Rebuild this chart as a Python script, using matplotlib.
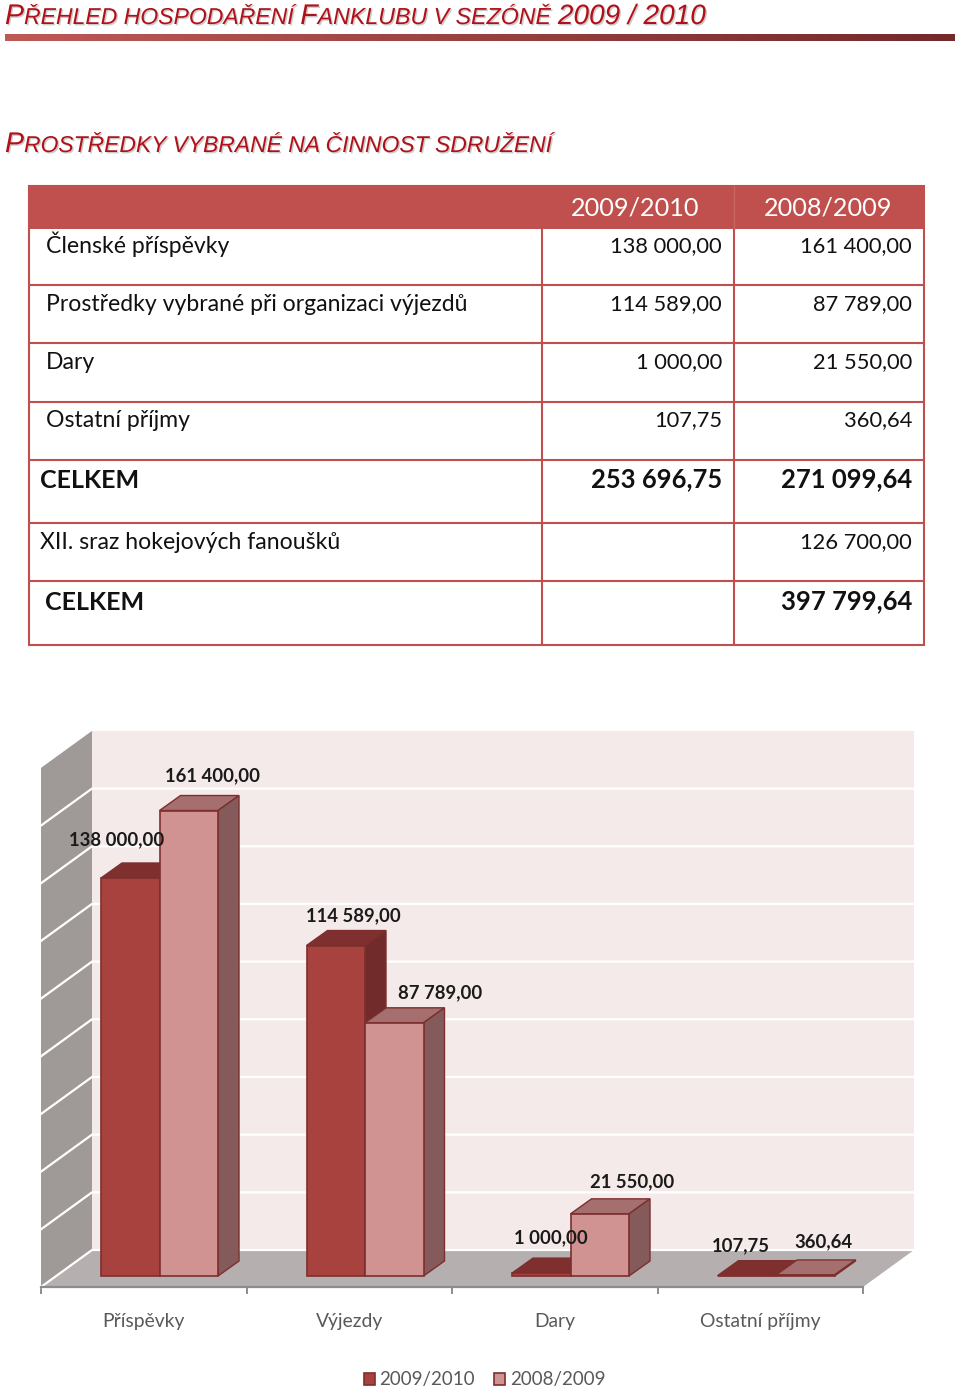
'''Prehled hospodareni fanklubu: table and pseudo-3D bar chart'''

import numpy as np
import matplotlib
matplotlib.use('Agg')
import matplotlib.pyplot as plt
from matplotlib.patches import Polygon, Rectangle, Patch
import matplotlib.patheffects as pe

# chart data
categories = ['Příspěvky', 'Výjezdy', 'Dary', 'Ostatní příjmy']
series_names = ['2009/2010', '2008/2009']
values_2009 = [138000.00, 114589.00, 1000.00, 107.75]
values_2008 = [161400.00, 87789.00, 21550.00, 360.64]
labels_2009 = ['138 000,00', '114 589,00', '1 000,00', '107,75']
labels_2008 = ['161 400,00', '87 789,00', '21 550,00', '360,64']
grid_values = [20000, 40000, 60000, 80000, 100000, 120000, 140000, 160000, 180000]

# table data
row_names = ['Členské příspěvky', 'Prostředky vybrané při organizaci výjezdů', 'Dary',
             'Ostatní příjmy', 'CELKEM', 'XII. sraz hokejových fanoušků', 'CELKEM']
col_2009 = ['138 000,00', '114 589,00', '1 000,00', '107,75', '253 696,75', '', '']
col_2008 = ['161 400,00', '87 789,00', '21 550,00', '360,64', '271 099,64', '126 700,00', '397 799,64']
row_x = [46, 46, 46, 46, 40, 40, 45]
row_base = [253, 311, 369, 427, 488, 549, 610]
row_bold = [False, False, False, False, True, False, True]
row_lines = [285, 343, 402, 460, 523, 581]

BODY = 'Lato'
RED = '#c0504d'
TITLE_RED = '#b01018'


def pts(px):
    return px * 72 / 100


fig = plt.figure(figsize=(9.6, 13.92), dpi=100)

# page overlay in pixel coordinates
page = fig.add_axes([0, 0, 1, 1])
page.set_axis_off()

# gradient rule under the title
grad = np.linspace(0, 1, 256).reshape(1, -1, 1)
start = np.array(matplotlib.colors.to_rgb('#bd5a56')).reshape(1, 1, 3)
end = np.array(matplotlib.colors.to_rgb('#722a2a')).reshape(1, 1, 3)
page.imshow(start + (end - start) * grad, extent=(5, 955, 41, 34), aspect='auto')
page.set_xlim(0, 960)
page.set_ylim(1392, 0)


def small_caps(x, y, parts):
    # parts are (text, pixel size); each one starts where the last one ended
    rend = fig.canvas.get_renderer()
    for s, size in parts:
        t = page.text(x, y, s, fontsize=pts(size), family='Liberation Sans', style='italic',
                      color=TITLE_RED, va='baseline', ha='left',
                      path_effects=[pe.withSimplePatchShadow(offset=(1, -1), alpha=0.3, shadow_rgbFace='#555555')])
        x += t.get_window_extent(rend).width


small_caps(5, 24, [('P', 28.5), ('ŘEHLED HOSPODAŘENÍ ', 23), ('F', 28.5), ('ANKLUBU V SEZÓNĚ ', 23.2),
                   ('2009 / 2010', 28)])
small_caps(5, 152, [('P', 28.5), ('ROSTŘEDKY VYBRANÉ NA ČINNOST SDRUŽENÍ', 22.9)])

# table frame and header
page.add_patch(Rectangle((28, 186), 896, 43, facecolor=RED, edgecolor='none'))
page.plot([734, 734], [186, 229], color='#c96663', lw=1)
page.add_patch(Rectangle((29, 186), 895, 459, facecolor='none', edgecolor=RED, lw=1.5))
for y in row_lines:
    page.plot([29, 924], [y, y], color=RED, lw=1.5, solid_capstyle='butt')
for x in [542, 734]:
    page.plot([x, x], [229, 645], color=RED, lw=1.5, solid_capstyle='butt')
page.text(635, 215, series_names[0], color='white', fontsize=pts(25.2), family=BODY, ha='center', va='baseline')
page.text(828, 215, series_names[1], color='white', fontsize=pts(25.2), family=BODY, ha='center', va='baseline')

for i in range(len(row_names)):
    name_size = 25 if row_bold[i] else 23
    num_size = 25.6 if row_bold[i] else 21.9
    weight = 'bold' if row_bold[i] else 'normal'
    page.text(row_x[i], row_base[i], row_names[i], fontsize=pts(name_size), fontweight=weight,
              family=BODY, color='#111111', ha='left', va='baseline')
    page.text(722, row_base[i] - 1, col_2009[i], fontsize=pts(num_size), fontweight=weight,
              family=BODY, color='#111111', ha='right', va='baseline')
    page.text(912, row_base[i] - 1, col_2008[i], fontsize=pts(num_size), fontweight=weight,
              family=BODY, color='#111111', ha='right', va='baseline')

# chart axes: x in categories, y in value; 1 category = 205.5 px, 1 px = 1/0.002884 of value
PX_X = 205.5
PX_Y = 0.002884
V_FLOOR = -11 / PX_Y
V_TOP = V_FLOOR + 557 / PX_Y

ax = fig.add_axes([41 / 960, 1 - 1287 / 1392, 822 / 960, 557 / 1392])
ax.patch.set_alpha(0)
ax.set_xlim(0, len(categories))
ax.set_ylim(V_FLOOR, V_TOP)
for side in ['top', 'left', 'right']:
    ax.spines[side].set_visible(False)
ax.spines['bottom'].set_color('#8c8c8c')
ax.spines['bottom'].set_linewidth(1.6)
ax.set_yticks([])
ax.set_xticks(np.arange(len(categories) + 1))
ax.set_xticklabels([])
ax.tick_params(axis='x', which='major', color='#8c8c8c', width=1.4, length=pts(7))
ax.set_xticks(np.arange(len(categories)) + 0.5, minor=True)
ax.set_xticklabels(categories, minor=True, fontsize=pts(19.3), family=BODY, color='#595959')
ax.tick_params(axis='x', which='minor', length=0, pad=pts(26))

# walls and floor, depth goes up and right
WALL_DX = 51 / PX_X
WALL_DY = 37 / PX_Y
back_top = V_FLOOR + WALL_DY + 180000
n = len(categories)
ax.add_patch(Polygon([(WALL_DX, V_FLOOR + WALL_DY), (n + WALL_DX, V_FLOOR + WALL_DY),
                      (n + WALL_DX, back_top), (WALL_DX, back_top)],
                     facecolor='#f5eaea', edgecolor='none', clip_on=False, zorder=1))
ax.add_patch(Polygon([(0, V_FLOOR), (WALL_DX, V_FLOOR + WALL_DY), (WALL_DX, back_top), (0, V_FLOOR + 180000)],
                     facecolor='#9f9a98', edgecolor='none', clip_on=False, zorder=1))
ax.add_patch(Polygon([(0, V_FLOOR), (n, V_FLOOR), (n + WALL_DX, V_FLOOR + WALL_DY), (WALL_DX, V_FLOOR + WALL_DY)],
                     facecolor='#b6afaf', edgecolor='none', clip_on=False, zorder=1))
for v in [0] + grid_values[:-1]:
    base = V_FLOOR + v
    ax.plot([0, WALL_DX, n + WALL_DX], [base, base + WALL_DY, base + WALL_DY],
            color='white', lw=1.6, clip_on=False, zorder=2)

# bars: front face from bar(), top and side as parallelograms
BAR_W = 58.5 / PX_X
BAR_X0 = 60 / PX_X
DEPTH_X = 21 / PX_X
DEPTH_Y = 15 / PX_Y
EDGE = '#7c2f2e'
FACES = [('#a8423f', '#7f2f2e', '#702b2a'), ('#d19392', '#a56f6f', '#855a5a')]


def draw_bar(x, v, faces, z):
    ax.bar(x, v, BAR_W, align='edge', color=faces[0], edgecolor=EDGE, linewidth=1.2, zorder=z + 0.2)
    ax.add_patch(Polygon([(x, v), (x + BAR_W, v), (x + BAR_W + DEPTH_X, v + DEPTH_Y), (x + DEPTH_X, v + DEPTH_Y)],
                         facecolor=faces[1], edgecolor=EDGE, lw=1.0, clip_on=False, zorder=z))
    ax.add_patch(Polygon([(x + BAR_W, 0), (x + BAR_W + DEPTH_X, DEPTH_Y), (x + BAR_W + DEPTH_X, v + DEPTH_Y), (x + BAR_W, v)],
                         facecolor=faces[2], edgecolor=EDGE, lw=1.0, clip_on=False, zorder=z))


for i in range(n):
    draw_bar(i + BAR_X0, values_2009[i], FACES[0], 3 + i)
    draw_bar(i + BAR_X0 + BAR_W, values_2008[i], FACES[1], 3.5 + i)

# value labels, offsets in pixels from the top front left of each bar
off_2009 = [(16, 38), (47, 30), (39, 35), (23, 30)]
off_2008 = [(53, 35), (75, 30), (62, 32), (47, 33)]
for i in range(n):
    x = i + BAR_X0
    ax.annotate(labels_2009[i], (x, values_2009[i]), xytext=off_2009[i], textcoords='offset pixels',
                ha='center', va='center', fontsize=pts(18.5), fontweight='bold', family=BODY,
                color='#1a1a1a', zorder=20, annotation_clip=False)
    ax.annotate(labels_2008[i], (x + BAR_W, values_2008[i]), xytext=off_2008[i], textcoords='offset pixels',
                ha='center', va='center', fontsize=pts(18.5), fontweight='bold', family=BODY,
                color='#1a1a1a', zorder=20, annotation_clip=False)

handles = [Patch(facecolor=FACES[0][0], edgecolor=EDGE, lw=1.2), Patch(facecolor=FACES[1][0], edgecolor=EDGE, lw=1.2)]
fig.legend(handles, series_names, loc='center', bbox_to_anchor=(484.5 / 960, 1 - 1380 / 1392), ncol=2,
           frameon=False, prop={'family': BODY, 'size': pts(18.8)}, labelcolor='#595959',
           handlelength=0.6, handleheight=0.6, handletextpad=0.25, columnspacing=1.0)

plt.savefig('out.png', dpi=100)
